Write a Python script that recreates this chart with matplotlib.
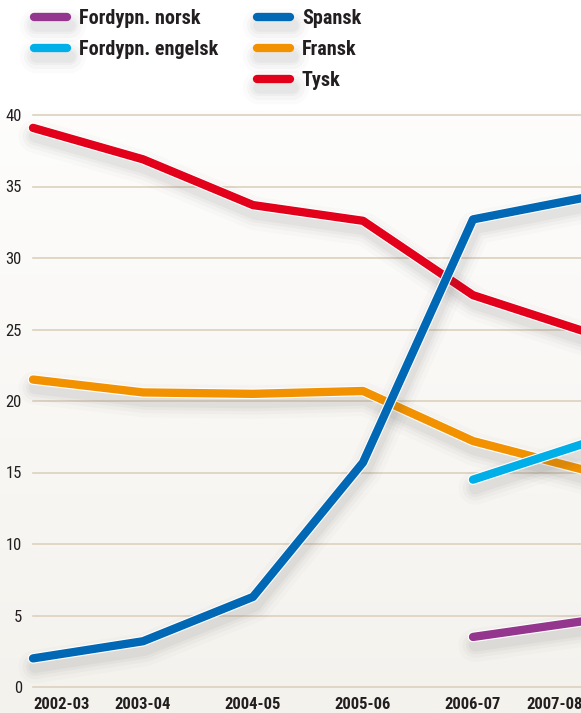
import matplotlib
matplotlib.use("Agg")
import matplotlib.pyplot as plt
import matplotlib.patheffects as pe
from matplotlib.lines import Line2D
import numpy as np

# =========================
# Data
# =========================
YEARS = ["2002-03", "2003-04", "2004-05", "2005-06", "2006-07", "2007-08"]

tysk = [39.1, 36.9, 33.7, 32.6, 27.4, 24.9]
spansk = [2.0, 3.2, 6.3, 15.7, 32.7, 34.2]
fransk = [21.5, 20.6, 20.5, 20.7, 17.2, 15.2]
fordypn_engelsk = [None, None, None, None, 14.5, 17.0]
fordypn_norsk = [None, None, None, None, 3.5, 4.6]

SERIES = [
    ("Fordypn. norsk", fordypn_norsk, "#94368d"),
    ("Fordypn. engelsk", fordypn_engelsk, "#00aee8"),
    ("Spansk", spansk, "#0068b4"),
    ("Fransk", fransk, "#f39200"),
    ("Tysk", tysk, "#e2001a"),
]
DRAW_ORDER = ["Fordypn. norsk", "Tysk", "Fransk", "Fordypn. engelsk", "Spansk"]

FONT = ["Roboto Condensed", "DejaVu Sans"]
plt.rcParams["font.family"] = FONT
TEXT_COLOR = "#231f20"

W, H = 581, 713
fig = plt.figure(figsize=(W / 100, H / 100), dpi=100)

# background gradient
bg = fig.add_axes([0, 0, 1, 1], zorder=-10)
grad = np.linspace(0, 1, 256).reshape(-1, 1)
top = np.array([1.0, 1.0, 1.0])
bot = np.array([0xf4, 0xf2, 0xed]) / 255
img = top * (1 - grad[..., None]) + bot * grad[..., None]
img[:40] = top
bg.imshow(img, aspect="auto", extent=[0, 1, 0, 1])
bg.set_axis_off()

# axes: index 0 at px 33, index 5 at px 583, y 0 at px 687, y 40 at px 115
ax = fig.add_axes([33 / W, (H - 687) / H, (583 - 33) / W, (687 - 115) / H])
ax.set_facecolor("none")
ax.set_xlim(0, 5)
ax.set_ylim(0, 40)
for s in ax.spines.values():
    s.set_visible(False)

for yv in range(0, 41, 5):
    ax.axhline(yv, color="#ddd1bd", lw=1.2, zorder=1, clip_on=False)

ax.set_yticks(range(0, 41, 5))
ax.set_yticklabels([str(v) for v in range(0, 41, 5)], fontsize=12, color=TEXT_COLOR)
ax.tick_params(axis="y", length=0, pad=8)

xs = np.arange(len(YEARS))
ax.set_xticks(xs)
ax.set_xticklabels(YEARS, fontsize=12, fontweight="bold", color=TEXT_COLOR)
ax.tick_params(axis="x", length=0, pad=7)
labels = ax.get_xticklabels()
labels[0].set_ha("left")
labels[-1].set_ha("right")


def shadow_effects(lw_outline=7.6):
    effects = []
    for w, a in [(24, 0.025), (18, 0.035), (13, 0.045), (9, 0.05)]:
        effects.append(pe.SimpleLineShadow(offset=(1.5, -6), shadow_color="#555555",
                                           alpha=a, linewidth=w))
    effects.append(pe.Stroke(linewidth=lw_outline, foreground="white"))
    effects.append(pe.Normal())
    return effects


lookup = {name: (vals, color) for name, vals, color in SERIES}
for i, name in enumerate(DRAW_ORDER):
    vals, color = lookup[name]
    px = [x for x, v in zip(xs, vals) if v is not None]
    py = [v for v in vals if v is not None]
    ax.plot(px, py, color=color, lw=6.0, solid_capstyle="round",
            solid_joinstyle="round", clip_on=False, zorder=3 + i,
            path_effects=shadow_effects())

# legend (manual, two columns)
cols = [[SERIES[0], SERIES[1]], [SERIES[2], SERIES[3], SERIES[4]]]
col_x = [31, 254]
row_y = [17, 48, 79]
for cx, entries in zip(col_x, cols):
    for ry, (name, vals, color) in zip(row_y, entries):
        yy = 1 - ry / H
        fig.add_artist(Line2D([(cx + 3) / W, (cx + 36) / W], [yy, yy], color=color,
                              lw=6.0, solid_capstyle="round", transform=fig.transFigure,
                              path_effects=shadow_effects(6.0)))
        fig.text((cx + 48) / W, yy - 1.5 / H, name, fontsize=14.5, fontweight="bold",
                 color=TEXT_COLOR, va="center", ha="left")

fig.savefig("out.png", dpi=100)
